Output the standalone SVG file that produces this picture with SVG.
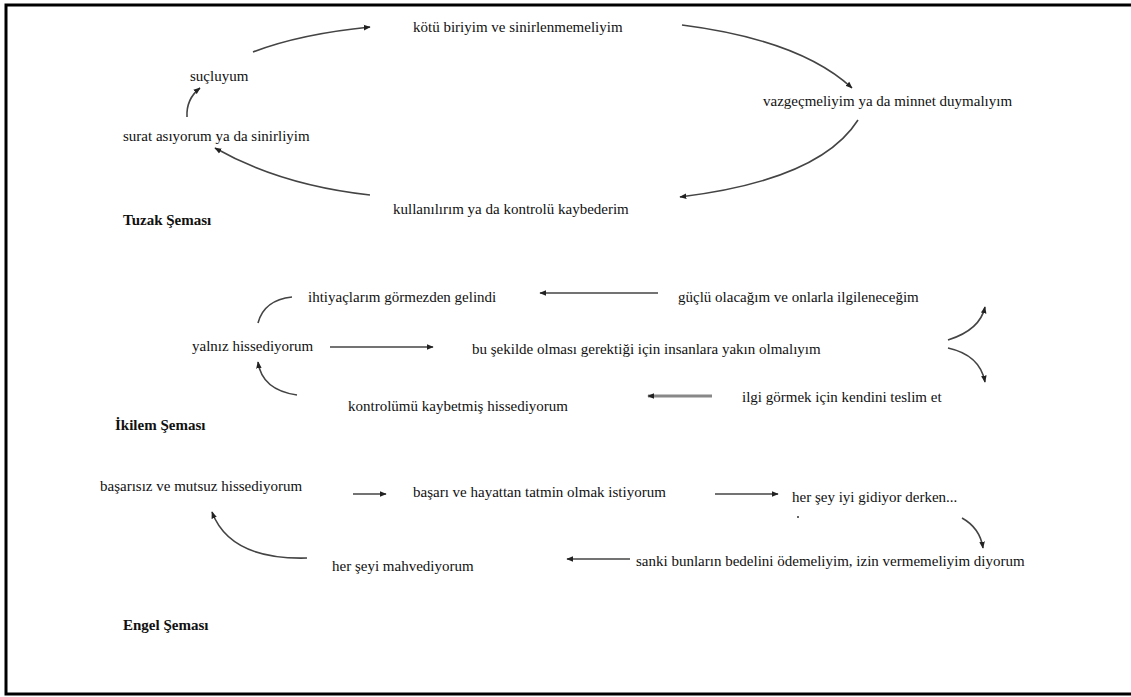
<svg xmlns="http://www.w3.org/2000/svg" width="1131" height="697" viewBox="0 0 1131 697">
<style>
text{font-family:"Liberation Serif","Times New Roman","DejaVu Serif",serif;font-size:15px;fill:#111}
.t{font-weight:bold}
.c{fill:none;stroke:#444;stroke-width:1.6}
.g{fill:none;stroke:#888;stroke-width:3}
</style>
<defs>
<marker id="ah" viewBox="0 0 10 10" refX="9" refY="5" markerWidth="7" markerHeight="7" markerUnits="userSpaceOnUse" orient="auto"><path d="M0,1 L10,5 L0,9 z" fill="#222"/></marker>
</defs>
<rect x="0" y="0" width="1131" height="697" fill="#fff"/>
<rect x="6" y="5" width="1135" height="689" fill="none" stroke="#000" stroke-width="3"/>

<g id="connectors">
<path class="c" d="M253,52 Q300,34 370,27" marker-end="url(#ah)"/>
<path class="c" d="M187,117 Q186,99 200,88" marker-end="url(#ah)"/>
<path class="c" d="M370,195 Q280,185 215,148" marker-end="url(#ah)"/>
<path class="c" d="M682,25 Q800,40 852,88" marker-end="url(#ah)"/>
<path class="c" d="M858,120 Q820,180 680,197" marker-end="url(#ah)"/>

<path class="c" d="M658,293 L540,293" marker-end="url(#ah)"/>
<path class="c" d="M292,297 Q264,300 258,323"/>
<path class="c" d="M330,347 L433,347" stroke-width="1.2" marker-end="url(#ah)"/>
<path class="c" d="M297,395 Q262,390 258,362" marker-end="url(#ah)"/>
<path class="g" d="M712,396 L648,396" marker-end="url(#ah)"/>
<path class="c" d="M948,340 Q980,330 985,307" marker-end="url(#ah)"/>
<path class="c" d="M948,348 Q980,355 985,382" marker-end="url(#ah)"/>

<path class="c" d="M353,494 L386,494" marker-end="url(#ah)"/>
<path class="c" d="M715,494 L778,494" marker-end="url(#ah)"/>
<path class="c" d="M962,518 Q980,528 983,548" marker-end="url(#ah)"/>
<path class="c" d="M630,559 L567,559" stroke-width="2" marker-end="url(#ah)"/>
<path class="c" d="M307,558 Q230,560 212,512" marker-end="url(#ah)"/>
<circle cx="798" cy="517" r="1" fill="#333"/>
</g>

<g id="tuzak">
<g id="n-kotu"><text x="413" y="32">kötü biriyim ve sinirlenmemeliyim</text></g>
<g id="n-vazgec"><text x="763" y="106">vazgeçmeliyim ya da minnet duymalıyım</text></g>
<g id="n-kullan"><text x="393" y="214">kullanılırım ya da kontrolü kaybederim</text></g>
<g id="n-surat"><text x="123" y="141">surat asıyorum ya da sinirliyim</text></g>
<g id="n-suclu"><text x="190" y="81">suçluyum</text></g>
<g id="l-tuzak"><text class="t" x="123" y="225">Tuzak Şeması</text></g>
</g>

<g id="ikilem">
<g id="n-ihtiyac"><text x="308" y="302">ihtiyaçlarım görmezden gelindi</text></g>
<g id="n-guclu"><text x="678" y="302">güçlü olacağım ve onlarla ilgileneceğim</text></g>
<g id="n-yalniz"><text x="192" y="351">yalnız hissediyorum</text></g>
<g id="n-bu"><text x="472" y="354">bu şekilde olması gerektiği için insanlara yakın olmalıyım</text></g>
<g id="n-kontrol"><text x="348" y="411">kontrolümü kaybetmiş hissediyorum</text></g>
<g id="n-ilgi"><text x="742" y="402">ilgi görmek için kendini teslim et</text></g>
<g id="l-ikilem"><text class="t" x="115" y="430">İkilem Şeması</text></g>
</g>

<g id="engel">
<g id="n-basarisiz"><text x="100" y="491">başarısız ve mutsuz hissediyorum</text></g>
<g id="n-basari"><text x="413" y="497">başarı ve hayattan tatmin olmak istiyorum</text></g>
<g id="n-hersey"><text x="792" y="502">her şey iyi gidiyor derken...</text></g>
<g id="n-sanki"><text x="636" y="566">sanki bunların bedelini ödemeliyim, izin vermemeliyim diyorum</text></g>
<g id="n-mahv"><text x="332" y="571">her şeyi mahvediyorum</text></g>
<g id="l-engel"><text class="t" x="123" y="630">Engel Şeması</text></g>
</g>
</svg>
